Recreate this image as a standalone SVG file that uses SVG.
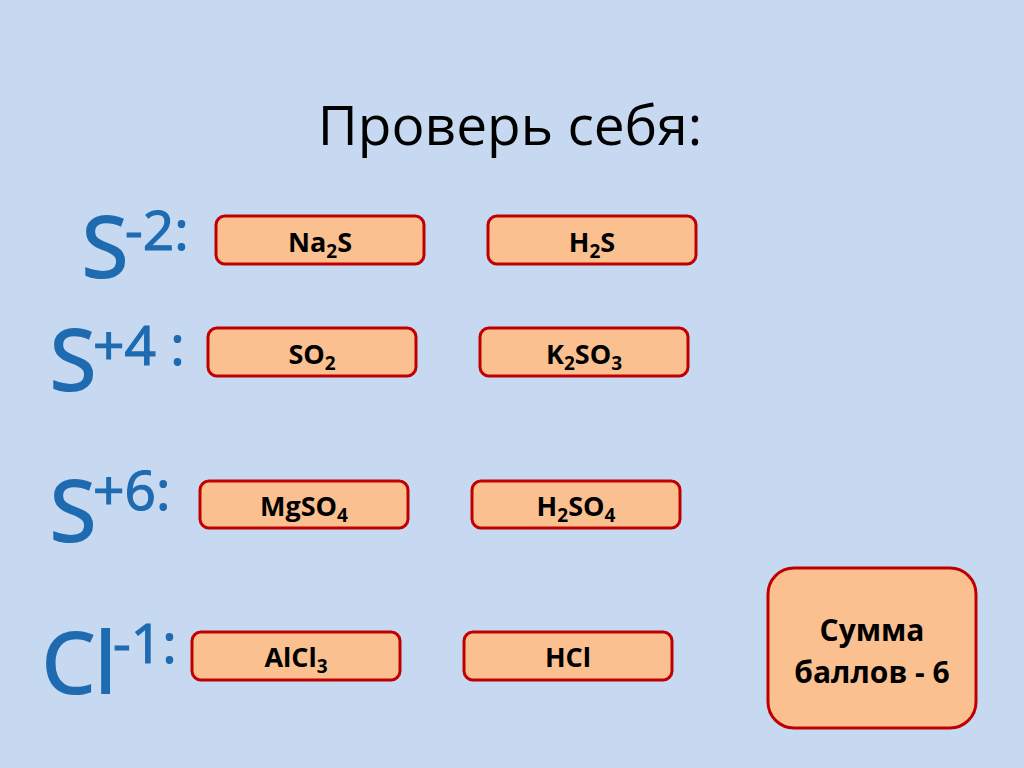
<svg xmlns="http://www.w3.org/2000/svg" width="1024" height="768" viewBox="0 0 1024 768">
<style>
.box{fill:#FAC090;stroke:#C00000;stroke-width:3}
.ft{font-family:"Open Sans","Liberation Sans",sans-serif;font-weight:bold;font-size:27px;fill:#000;text-anchor:middle}
.sub{font-size:19px}
.el{font-family:"Open Sans","Liberation Sans",sans-serif;fill:#1F6BB2;stroke:#1F6BB2;stroke-width:2;font-size:84px}
.sup{font-family:"Open Sans","Liberation Sans",sans-serif;fill:#1F6BB2;stroke:#1F6BB2;stroke-width:1.2;font-size:55px}
</style>
<rect width="1024" height="768" fill="#C6D9F1"/>
<text x="510" y="145" font-family="'Open Sans','Liberation Sans',sans-serif" font-size="55" fill="#000" text-anchor="middle">Проверь себя:</text>

<g id="label-s-2"><text class="el" x="82" y="277">S</text><text class="sup" x="125" y="250">-2:</text></g>
<g id="label-s4"><text class="el" x="50" y="390">S</text><text class="sup" x="93" y="365">+4 :</text></g>
<g id="label-s6"><text class="el" x="50" y="541">S</text><text class="sup" x="93" y="510">+6:</text></g>
<g id="label-cl"><text class="el" x="42" y="693">Cl</text><text class="sup" x="113" y="663">-1:</text></g>

<g id="na2s"><rect class="box" x="216" y="216" width="208" height="48" rx="9"/><text class="ft" x="320" y="252">Na<tspan class="sub" dy="6">2</tspan><tspan dy="-6">S</tspan></text></g>
<g id="h2s"><rect class="box" x="488" y="216" width="208" height="48" rx="9"/><text class="ft" x="592" y="252">H<tspan class="sub" dy="6">2</tspan><tspan dy="-6">S</tspan></text></g>
<g id="so2"><rect class="box" x="208" y="328" width="208" height="48" rx="9"/><text class="ft" x="312" y="364">SO<tspan class="sub" dy="6">2</tspan></text></g>
<g id="k2so3"><rect class="box" x="480" y="328" width="208" height="48" rx="9"/><text class="ft" x="584" y="364">K<tspan class="sub" dy="6">2</tspan><tspan dy="-6">SO</tspan><tspan class="sub" dy="6">3</tspan></text></g>
<g id="mgso4"><rect class="box" x="200" y="481" width="208" height="47" rx="9"/><text class="ft" x="304" y="516">MgSO<tspan class="sub" dy="6">4</tspan></text></g>
<g id="h2so4"><rect class="box" x="472" y="481" width="208" height="47" rx="9"/><text class="ft" x="576" y="516">H<tspan class="sub" dy="6">2</tspan><tspan dy="-6">SO</tspan><tspan class="sub" dy="6">4</tspan></text></g>
<g id="alcl3"><rect class="box" x="192" y="632" width="208" height="48" rx="9"/><text class="ft" x="296" y="667">AlCl<tspan class="sub" dy="6">3</tspan></text></g>
<g id="hcl"><rect class="box" x="464" y="632" width="208" height="48" rx="9"/><text class="ft" x="568" y="667">HCl</text></g>
<g id="summa"><rect class="box" x="768" y="568" width="208" height="160" rx="26"/><text class="ft" x="872" y="641" style="font-size:30px">Сумма</text><text class="ft" x="872" y="683" style="font-size:30px">баллов - 6</text></g>
<g id="connectors"/>
</svg>
